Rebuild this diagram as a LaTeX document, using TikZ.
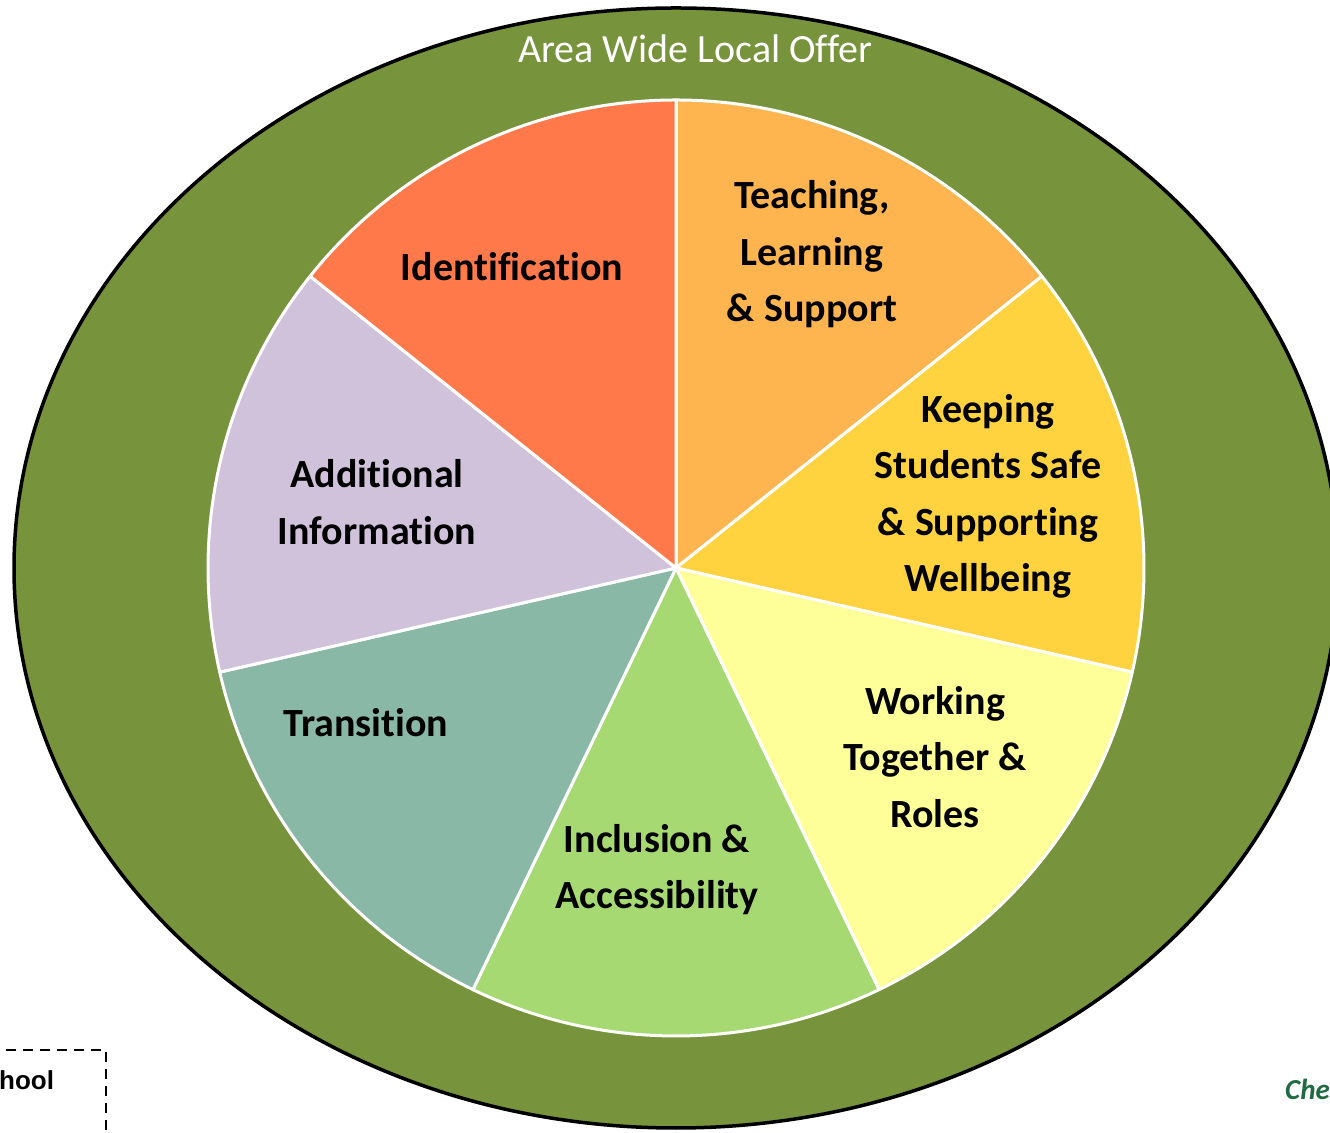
\documentclass[tikz,border=0pt]{standalone}
\usepackage{fontspec}
\setmainfont{Carlito}[Ligatures={NoCommon,NoContextual}, Contextuals={NoAlternate}, RawFeature={-liga,-clig,-calt}]
\newfontfamily\arialfont{Liberation Sans}
\definecolor{olivering}{HTML}{77933C}
\definecolor{cIdent}{HTML}{FF794B}
\definecolor{cTeach}{HTML}{FFB54F}
\definecolor{cKeep}{HTML}{FFD33F}
\definecolor{cWork}{HTML}{FFFF99}
\definecolor{cIncl}{HTML}{A6D972}
\definecolor{cTrans}{HTML}{8AB8A7}
\definecolor{cAdd}{HTML}{CFC2DA}
\definecolor{cChe}{HTML}{1E6B41}
\tikzset{
  slice/.style={draw=white, line width=3pt, line join=round},
  lbl/.style={align=center, inner sep=0pt, font=\bfseries\fontsize{40}{56.5}\selectfont, text=black},
}
\begin{document}
\begin{tikzpicture}[x=1pt,y=1pt]
\useasboundingbox (0,0) rectangle (1330,1132);
\coordinate (C) at (676,564);
% outer ring
\draw[fill=olivering, line width=3.5pt] (C) ellipse [x radius=662pt, y radius=560pt];
% slices
\def\R{468pt}
\filldraw[slice, fill=cTeach] (C) -- ++(90:\R) arc[start angle=90, end angle=38.571, radius=\R] -- cycle;
\filldraw[slice, fill=cKeep] (C) -- ++(38.571:\R) arc[start angle=38.571, end angle=-12.857, radius=\R] -- cycle;
\filldraw[slice, fill=cWork] (C) -- ++(-12.857:\R) arc[start angle=-12.857, end angle=-64.286, radius=\R] -- cycle;
\filldraw[slice, fill=cIncl] (C) -- ++(-64.286:\R) arc[start angle=-64.286, end angle=-115.714, radius=\R] -- cycle;
\filldraw[slice, fill=cTrans] (C) -- ++(-115.714:\R) arc[start angle=-115.714, end angle=-167.143, radius=\R] -- cycle;
\filldraw[slice, fill=cAdd] (C) -- ++(-167.143:\R) arc[start angle=-167.143, end angle=-218.571, radius=\R] -- cycle;
\filldraw[slice, fill=cIdent] (C) -- ++(141.429:\R) arc[start angle=141.429, end angle=90, radius=\R] -- cycle;
% labels
\node[inner sep=0pt, text=white, font=\fontsize{40}{48}\selectfont] (title) at (695.5,1083) {Area Wide Local Offer};
\node[lbl] (ident) at (512,865) {Identification};
\node[lbl] (teach) at (812,877.5) {Teaching,\\Learning\\\& Support};
\node[lbl] (keep) at (988,635.5) {Keeping\\Students Safe\\\& Supporting\\Wellbeing};
\node[lbl] (work) at (935,375) {Working\\Together \&\\Roles};
\node[lbl] (incl) at (657,262.5) {Inclusion \&\\Accessibility};
\node[lbl] (trans) at (366,409) {Transition};
\node[lbl] (addi) at (377,630) {Additional\\Information};
% fragments at the edges
\coordinate (dA) at (6,82);
\coordinate (dB) at (106,0);
\draw[line width=2pt, dash pattern=on 10pt off 7pt] (dA) -| (dB);
\node[anchor=base west, inner sep=0pt, font=\arialfont\bfseries\fontsize{26}{30}\selectfont] (hool) at (-1,42) {hool};
\node[anchor=base west, inner sep=0pt, text=cChe, font=\bfseries\itshape\fontsize{29}{32}\selectfont] (che) at (1285,32) {Che};
\end{tikzpicture}
\end{document}
